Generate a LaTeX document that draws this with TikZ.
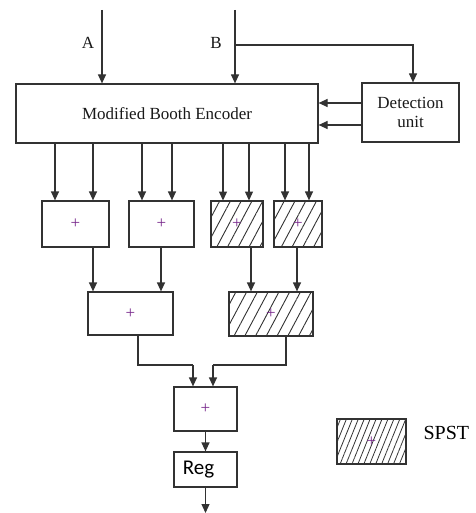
\documentclass[tikz,border=0pt]{standalone}
\usepackage{fontspec}
\setmainfont{Liberation Serif}
\newfontfamily\regfont{Carlito}
\usetikzlibrary{arrows.meta,patterns.meta}
\definecolor{ln}{RGB}{50,50,50}
\definecolor{pl}{RGB}{120,40,140}
\begin{document}
\begin{tikzpicture}[x=1pt,y=-1pt,
  box/.style={draw=ln,line width=1.2pt,inner sep=0pt,fill=white},
  hatch/.style={box,pattern={Lines[angle=62,distance=9.5pt,line width=0.9pt]},pattern color=ln},
  hatchd/.style={box,pattern={Lines[angle=68,distance=5.5pt,line width=0.8pt]},pattern color=ln},
  plus/.style={text=pl,font=\fontsize{17}{17}\selectfont},
  arr/.style={draw=ln,line width=1.2pt,-{Triangle[length=9pt,width=8pt]}},
  ln/.style={draw=ln,line width=1.2pt},
  lbl/.style={font=\fontsize{17}{19}\selectfont,text=black!90}]
\useasboundingbox (0,0) rectangle (475,513);
% nodes
\node[box,minimum width=302pt,minimum height=59pt,lbl] (enc) at (167,113.5) {Modified Booth Encoder};
\node[box,minimum width=97pt,minimum height=59pt,lbl,align=center] (det) at (410.5,112.5) {Detection\\unit};
\node[box,minimum width=67pt,minimum height=46pt,plus] (b1) at (75.5,224) {+};
\node[box,minimum width=65pt,minimum height=46pt,plus] (b2) at (161.5,224) {+};
\node[hatch,minimum width=52pt,minimum height=46pt] (b3) at (237,224) {};
\node[plus] (p3) at (237,224) {+};
\node[hatch,minimum width=48pt,minimum height=46pt] (b4) at (298,224) {};
\node[plus] (p4) at (298,224) {+};
\node[box,minimum width=85pt,minimum height=43pt,plus] (b5) at (130.5,313.5) {+};
\node[hatch,minimum width=84pt,minimum height=44pt] (b6) at (271,314) {};
\node[plus] (p6) at (271,314) {+};
\node[box,minimum width=63pt,minimum height=44pt,plus] (b7) at (205.5,409) {+};
\node[box,minimum width=63pt,minimum height=35pt,font=\regfont\fontsize{21}{21}\selectfont] (reg) at (205.5,469.5) {Reg\hspace*{14pt}};
\node[hatchd,minimum width=69pt,minimum height=45pt] (leg) at (371.5,441.5) {};
\node[plus] (pl) at (371.5,441.5) {+};
\node[font=\fontsize{20}{20}\selectfont,anchor=west] (spst) at (420,433) {SPST};
\node[lbl] (la) at (88,43) {A};
\node[lbl] (lb) at (216,43) {B};
% coordinates
\coordinate (inA) at (102,10);
\coordinate (inB) at (235,10);
\coordinate (bt) at (235,45);
\coordinate (j1) at (193,365);
\coordinate (j2) at (213,365);
\coordinate (out) at (205.5,513);
% inputs
\draw[arr] (inA) -- (enc.north -| inA);
\draw[arr] (inB) -- (enc.north -| inB);
\draw[arr] (bt) -| (det.north -| 413,0);
\draw[arr] (det.west |- 0,103) -- (enc.east |- 0,103);
\draw[arr] (det.west |- 0,125) -- (enc.east |- 0,125);
% encoder outputs
\foreach \x/\b in {55/b1,93/b1,142/b2,172/b2,223/b3,249/b3,285/b4,309/b4}
  \draw[arr] (enc.south -| \x,0) -- (\b.north -| \x,0);
% row 1 to row 2
\draw[arr] (b1.south -| 93,0) -- (b5.north -| 93,0);
\draw[arr] (b2.south -| 161,0) -- (b5.north -| 161,0);
\draw[arr] (b3.south -| 251,0) -- (b6.north -| 251,0);
\draw[arr] (b4.south -| 297,0) -- (b6.north -| 297,0);
% row 2 to final adder
\draw[ln] (b5.south -| 138,0) |- (j1);
\draw[arr] (j1) -- (b7.north -| j1);
\draw[ln] (b6.south -| 286,0) |- (j2);
\draw[arr] (j2) -- (b7.north -| j2);
% final
\draw[arr] (b7.south) -- (reg.north);
\draw[arr] (reg.south) -- (out);
\end{tikzpicture}
\end{document}
